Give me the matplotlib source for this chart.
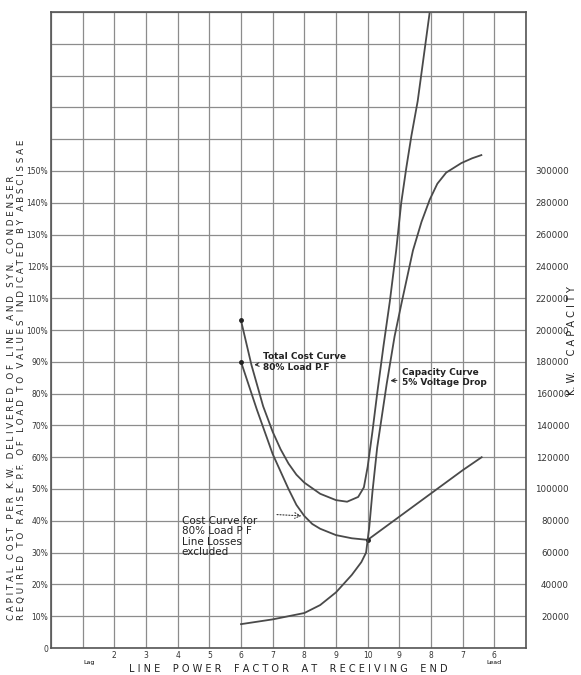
import matplotlib
matplotlib.use('Agg')
import matplotlib.pyplot as plt

# x positions are grid steps: 2..10 = lagging p.f. .2 .. 1.0, then 11..14 = leading .9 .. .6
total_cost_x = [6.0, 6.33, 6.7, 7.0, 7.25, 7.5, 7.75, 8.0, 8.5, 9.0, 9.35, 9.7, 9.88, 10.0,
                10.15, 10.3, 10.5, 10.7, 10.9, 11.06, 11.22, 11.38, 11.58, 11.96]
total_cost_pct = [103, 89, 76, 68, 62.5, 58, 54.5, 52, 48.5, 46.5, 46, 47.5, 50.5, 57,
                  68, 80, 95, 109, 125, 140, 151, 161, 172, 200]

cost_excl_x = [6.0, 6.5, 7.0, 7.5, 7.75, 8.0, 8.25, 8.5, 9.0, 9.5, 10.0, 11.0, 12.0, 13.0, 13.6]
cost_excl_pct = [90, 75, 61, 50, 45, 41.5, 39, 37.5, 35.5, 34.5, 34, 41.3, 48.6, 55.9, 60]

capacity_x = [6.0, 7.0, 8.0, 8.5, 9.0, 9.5, 9.8, 9.95, 10.05, 10.15, 10.3, 10.6, 10.85,
              11.06, 11.43, 11.7, 11.96, 12.2, 12.48, 12.96, 13.3, 13.59]
capacity_kw = [15000, 18000, 22000, 27000, 35000, 46000, 54000, 60000, 76000, 98000,
               126000, 166000, 196000, 216000, 250000, 268000, 282000, 292000,
               299000, 305000, 308000, 310000]

pf_tick_pos = list(range(16))
pf_tick_labels = ['', '', '2', '3', '4', '5', '6', '7', '8', '9', '10',
                  '9', '8', '7', '6', '']
pct_ticks = list(range(0, 201, 10))
pct_labels = ['0'] + [f'{v}%' for v in range(10, 151, 10)] + [''] * 5
kw_ticks = list(range(20000, 300001, 20000))

line_col = '#4a4a4a'
grid_col = '#8c8c8c'

fig = plt.figure(figsize=(5.81, 6.75), dpi=100)
ax = fig.add_axes([51 / 581, 27 / 675, 475 / 581, 636 / 675])
ax.set_xlim(0, 15)
ax.set_ylim(0, 200)

ax.set_xticks(pf_tick_pos)
ax.set_xticklabels(pf_tick_labels, fontsize=5.5)
ax.set_yticks(pct_ticks)
ax.set_yticklabels(pct_labels, fontsize=5.5)
ax.tick_params(length=0, pad=2, colors='#333333')
ax.grid(True, color=grid_col, linewidth=0.9)
for s in ax.spines.values():
    s.set_color('#555555')
    s.set_linewidth(1.2)

ax.plot(total_cost_x, total_cost_pct, color=line_col, lw=1.3)
ax.plot(cost_excl_x, cost_excl_pct, color=line_col, lw=1.3)

ax2 = ax.twinx()
ax2.set_ylim(0, 400000)
ax2.plot(capacity_x, capacity_kw, color=line_col, lw=1.3)
ax2.set_yticks(kw_ticks)
ax2.set_yticklabels([str(v) for v in kw_ticks], fontsize=6.3)
for t in ax2.get_yticklabels():
    t.set_horizontalalignment('right')
ax2.tick_params(length=0, pad=31, colors='#333333')
for s in ax2.spines.values():
    s.set_visible(False)

# little dots where the curves start / cross
ax.plot([6, 6, 10], [103, 90, 34], 'o', color='#222222', ms=2.5)

arrow = dict(arrowstyle='->', color='#333333', lw=0.8)
ax.annotate('Total Cost Curve\n80% Load P.F', xy=(6.33, 89), xytext=(6.7, 90),
            fontsize=6.5, va='center', ha='left', arrowprops=arrow,
            fontweight='bold', color='#222222')
ax.annotate('Capacity Curve\n5% Voltage Drop', xy=(10.63, 84), xytext=(11.1, 85),
            fontsize=6.5, va='center', ha='left', arrowprops=arrow,
            fontweight='bold', color='#222222')
ax.text(4.13, 35, 'Cost Curve for\n80% Load P F\nLine Losses\nexcluded',
        fontsize=7.5, va='center', ha='left', color='#222222', linespacing=1.05)
ax.annotate('', xy=(8.0, 41.5), xytext=(7.05, 42),
            arrowprops=dict(arrowstyle='->', color='#333333', lw=0.8, ls=':'))

ax.text(1.2, -3.8, 'Lag', fontsize=4.5, ha='center', va='top')
ax.text(14.0, -3.8, 'Lead', fontsize=4.5, ha='center', va='top')

fig.text(0.497, 0.002, 'L I N E    P O W E R    F A C T O R    A T    R E C E I V I N G    E N D',
         fontsize=7, ha='center', va='bottom', color='#222222')

fig.text(0.019, 0.081, 'C A P I T A L   C O S T   P E R   K. W.   D E L I V E R E D   O F   L I N E   A N D   S Y N.   C O N D E N S E R',
         rotation=90, fontsize=6.3, ha='center', va='bottom', color='#222222')
fig.text(0.037, 0.081, 'R E Q U I R E D   T O   R A I S E   P. F.   O F   L O A D   T O   V A L U E S   I N D I C A T E D   B Y   A B S C I S S A E',
         rotation=90, fontsize=6.3, ha='center', va='bottom', color='#222222')

fig.text(0.985, 0.495, 'K. W.     C A P A C I T Y', rotation=90, fontsize=7,
         ha='center', va='center', color='#222222')

fig.savefig('out.png', dpi=100)
